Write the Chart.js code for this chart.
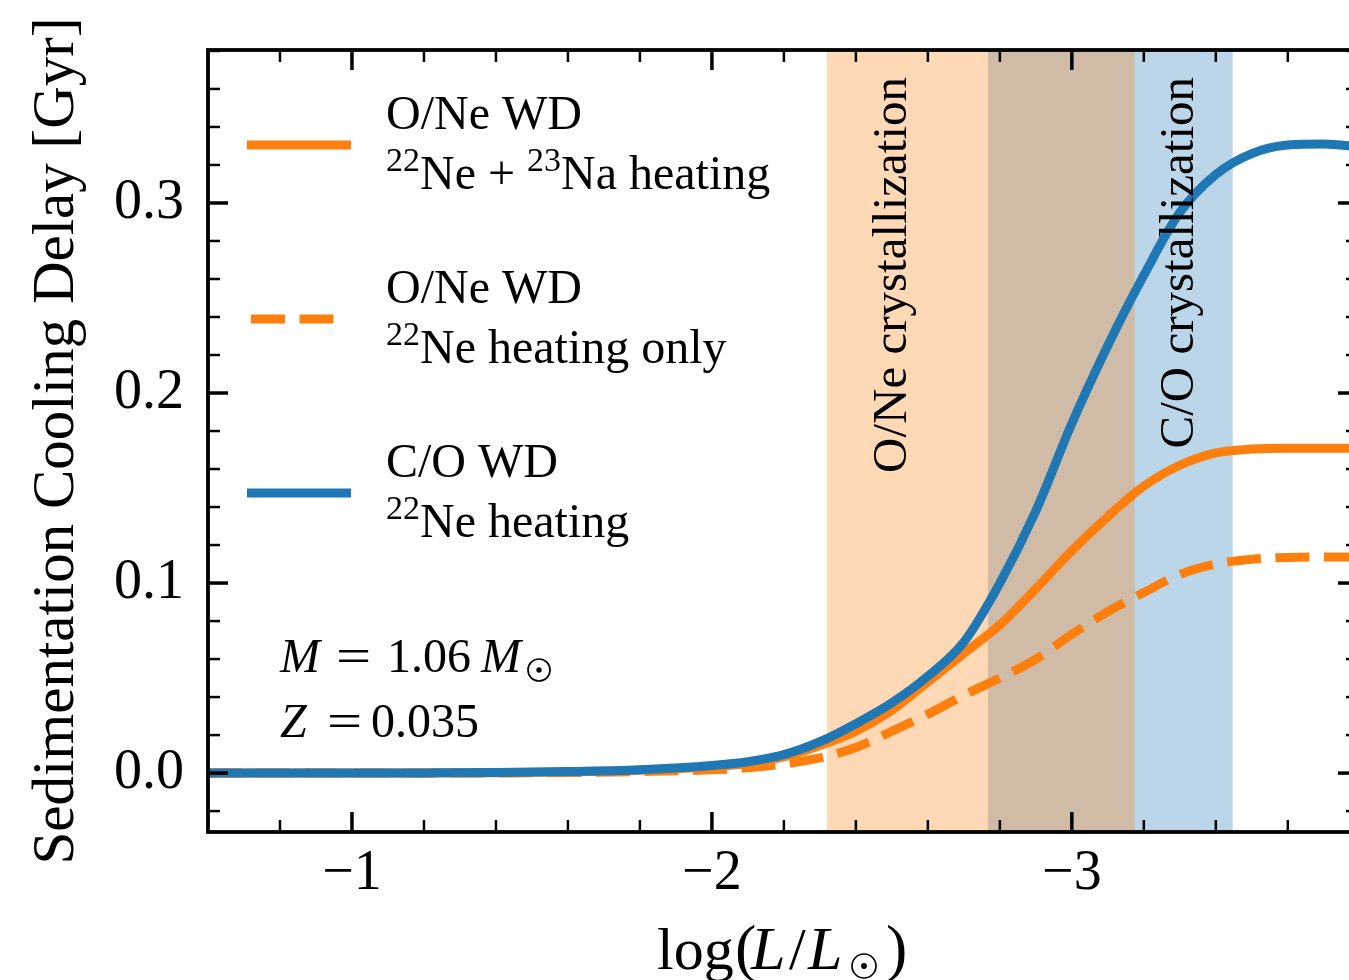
<!DOCTYPE html>
<html>
<head>
<meta charset="utf-8">
<title>Sedimentation cooling delay</title>
<script src="https://cdn.jsdelivr.net/npm/chart.js@4.4.0/dist/chart.umd.min.js"></script>
<style>
  html, body { margin: 0; padding: 0; background: #fff; overflow: hidden; }
  #wrap { width: 1380px; height: 980px; }
</style>
</head>
<body>
<div id="wrap"><canvas id="delay-chart" width="1380" height="980"></canvas></div>
<script>
// log(L/Lsun) grid and cooling delays in Gyr
const logL = [-0.6, -0.8, -1.0, -1.2, -1.4, -1.6, -1.8, -2.0, -2.1, -2.2, -2.3, -2.4, -2.5,
              -2.6, -2.7, -2.8, -2.9, -3.0, -3.1, -3.2, -3.3, -3.4, -3.5, -3.6, -3.7, -3.8];
const oneNeNa = [0, 0, 0, 0, 0.0002, 0.0006, 0.0015, 0.0033, 0.0050, 0.0085, 0.0145, 0.022, 0.033,
                 0.048, 0.063, 0.078, 0.097, 0.117, 0.135, 0.151, 0.162, 0.1685, 0.1705, 0.171, 0.171, 0.171];
const one22Ne = [0, 0, 0, 0, 0.0001, 0.0003, 0.0008, 0.0017, 0.0028, 0.0048, 0.008, 0.0135, 0.022,
                 0.031, 0.041, 0.050, 0.060, 0.073, 0.085, 0.095, 0.1045, 0.110, 0.1125, 0.1135, 0.1137, 0.1137];
const co22Ne = [0, 0, 0, 0.0001, 0.0003, 0.0008, 0.0018, 0.0040, 0.0060, 0.0097, 0.0165, 0.026, 0.037,
                0.051, 0.069, 0.100, 0.138, 0.184, 0.225, 0.262, 0.295, 0.315, 0.326, 0.3305, 0.331, 0.3295];

const xTicks = [-1, -2, -3];
const yTicks = [0, 0.1, 0.2, 0.3];

// crystallization ranges in log(L/Lsun)
const oneBand = [-2.32, -3.175];
const coBand = [-2.767, -3.447];

const ORANGE = '#ff7f0e';
const BLUE = '#1f77b4';
const SERIF = '"Liberation Serif", "Times New Roman", serif';

function sun(ctx, cx, cy, r) {
  ctx.save();
  ctx.setLineDash([]);
  ctx.lineWidth = 1.7;
  ctx.beginPath();
  ctx.arc(cx, cy, r, 0, Math.PI * 2);
  ctx.stroke();
  ctx.beginPath();
  ctx.arc(cx, cy, r * 0.24, 0, Math.PI * 2);
  ctx.fill();
  ctx.restore();
}

// wide math-style equals sign
function equals(ctx, x, y, size) {
  ctx.save();
  ctx.font = size + 'px ' + SERIF;
  ctx.translate(x, y);
  ctx.scale(1.3, 1);
  ctx.fillText('=', 0, 0);
  ctx.restore();
}

// text runs laid out one after another, sup runs raised and smaller
function drawRuns(ctx, x, y, runs, size) {
  runs.forEach(r => {
    const fs = r.sup ? Math.round(size * 0.7) : size;
    ctx.font = (r.it ? 'italic ' : '') + fs + 'px ' + SERIF;
    ctx.fillText(r.t, x, y - (r.sup ? size * 0.37 : 0));
    x += ctx.measureText(r.t).width;
  });
}

const bands = {
  id: 'bands',
  beforeDatasetsDraw(chart) {
    const {ctx, chartArea: a, scales: {x}} = chart;
    ctx.save();
    [[coBand, 'rgba(31,119,180,0.3)'], [oneBand, 'rgba(255,127,14,0.3)']].forEach(([b, c]) => {
      const x0 = x.getPixelForValue(b[0]);
      const x1 = x.getPixelForValue(b[1]);
      ctx.fillStyle = c;
      ctx.fillRect(Math.min(x0, x1), a.top, Math.abs(x1 - x0), a.bottom - a.top);
    });
    ctx.restore();
  },
  afterDatasetsDraw(chart) {
    const {ctx, chartArea: a, scales: {x}} = chart;
    ctx.save();
    ctx.fillStyle = '#000';
    ctx.font = '49px ' + SERIF;
    ctx.textAlign = 'right';
    ctx.textBaseline = 'alphabetic';
    [['O/Ne crystallization', -2.54], ['C/O crystallization', -3.336]].forEach(([t, v]) => {
      ctx.save();
      ctx.translate(x.getPixelForValue(v), a.top + 27);
      ctx.rotate(-Math.PI / 2);
      ctx.fillText(t, 0, 0);
      ctx.restore();
    });
    ctx.restore();
  }
};

const legendRows = [
  {ds: 0, y: 145, from: 247, to: 351, lines: [
    [{t: 'O/Ne WD'}],
    [{t: '22', sup: true}, {t: 'Ne + '}, {t: '23', sup: true}, {t: 'Na heating'}]]},
  {ds: 1, y: 319, from: 251, to: 334, lines: [
    [{t: 'O/Ne WD'}],
    [{t: '22', sup: true}, {t: 'Ne heating only'}]]},
  {ds: 2, y: 493, from: 247, to: 351, lines: [
    [{t: 'C/O WD'}],
    [{t: '22', sup: true}, {t: 'Ne heating'}]]}
];

const frame = {
  id: 'frame',
  afterDraw(chart) {
    const {ctx, chartArea: a, scales: {x, y}} = chart;
    ctx.save();
    ctx.strokeStyle = '#000';
    ctx.fillStyle = '#000';
    ctx.lineCap = 'butt';

    const seg = (x0, y0, x1, y1, w) => {
      ctx.lineWidth = w;
      ctx.beginPath();
      ctx.moveTo(x0, y0);
      ctx.lineTo(x1, y1);
      ctx.stroke();
    };

    // ticks point inward on all four sides
    for (let i = 4; i <= 19; i++) {
      const v = -i / 5;
      const px = x.getPixelForValue(v);
      if (px <= a.left || px >= a.right) continue;
      const major = i % 5 === 0;
      const len = major ? 20 : 12;
      const w = major ? 3.5 : 2.5;
      seg(px, a.bottom, px, a.bottom - len, w);
      seg(px, a.top, px, a.top + len, w);
    }
    for (let i = -1; i <= 19; i++) {
      const v = i / 50;
      const py = y.getPixelForValue(v);
      if (py >= a.bottom || py <= a.top) continue;
      const major = i % 5 === 0;
      const len = major ? 20 : 12;
      const w = major ? 3.5 : 2.5;
      seg(a.left, py, a.left + len, py, w);
      seg(a.right, py, a.right - len, py, w);
    }
    ctx.lineWidth = 3.8;
    ctx.strokeRect(a.left, a.top, a.right - a.left, a.bottom - a.top);

    // legend
    ctx.textAlign = 'left';
    ctx.textBaseline = 'alphabetic';
    legendRows.forEach(row => {
      const ds = chart.data.datasets[row.ds];
      ctx.save();
      ctx.strokeStyle = ds.borderColor;
      ctx.lineWidth = ds.borderWidth;
      ctx.setLineDash(ds.borderDash || []);
      ctx.beginPath();
      ctx.moveTo(row.from, row.y);
      ctx.lineTo(row.to, row.y);
      ctx.stroke();
      ctx.restore();
      drawRuns(ctx, 386, row.y - 16, row.lines[0], 48);
      drawRuns(ctx, 386, row.y + 44, row.lines[1], 48);
    });

    // model parameters
    ctx.font = 'italic 48px ' + SERIF;
    ctx.fillText('M', 280, 672);
    ctx.fillText('Z', 280, 737);
    equals(ctx, 336, 672, 48);
    equals(ctx, 327, 737, 48);
    ctx.font = '48px ' + SERIF;
    ctx.fillText('1.06', 387, 672);
    ctx.fillText('0.035', 371, 737);
    ctx.font = 'italic 48px ' + SERIF;
    ctx.fillText('M', 481, 672);
    sun(ctx, 539, 670, 11);

    // x axis title: log(L/Lsun)
    const tx = (a.left + a.right) / 2 - 126;
    const ty = 969;
    ctx.font = '60px ' + SERIF;
    ctx.fillText('log', tx, ty);
    ctx.font = '64px ' + SERIF;
    ctx.fillText('(', tx + 78, ty);
    ctx.fillText(')', tx + 229, ty);
    ctx.font = '60px ' + SERIF;
    ctx.fillText('/', tx + 132, ty);
    ctx.font = 'italic 62px ' + SERIF;
    ctx.fillText('L', tx + 94, ty);
    ctx.fillText('L', tx + 151, ty);
    sun(ctx, tx + 207, ty - 3, 12);

    ctx.restore();
  }
};

const ctx = document.getElementById('delay-chart').getContext('2d');
const delayChart = new Chart(ctx, {
  type: 'line',
  data: {
    datasets: [
      {
        label: 'O/Ne WD, 22Ne + 23Na heating',
        data: logL.map((v, i) => ({x: v, y: oneNeNa[i]})),
        borderColor: ORANGE,
        borderWidth: 9,
        order: 2
      },
      {
        label: 'O/Ne WD, 22Ne heating only',
        data: logL.map((v, i) => ({x: v, y: one22Ne[i]})),
        borderColor: ORANGE,
        borderWidth: 9,
        borderDash: [34, 14.5],
        order: 1
      },
      {
        label: 'C/O WD, 22Ne heating',
        data: logL.map((v, i) => ({x: v, y: co22Ne[i]})),
        borderColor: BLUE,
        borderWidth: 9,
        order: 0
      }
    ]
  },
  options: {
    responsive: false,
    animation: false,
    layout: { padding: { top: 50, right: 22, left: 0, bottom: 0 } },
    elements: {
      point: { radius: 0 },
      line: { cubicInterpolationMode: 'monotone', borderCapStyle: 'butt', borderJoinStyle: 'round' }
    },
    plugins: {
      legend: { display: false },
      tooltip: { enabled: false }
    },
    scales: {
      x: {
        type: 'linear',
        reverse: true,
        min: -3.795,
        max: -0.6,
        grid: { display: false, drawTicks: false },
        border: { display: false },
        afterBuildTicks: axis => { axis.ticks = xTicks.map(v => ({value: v})); },
        afterFit: axis => {
          axis.height = 148;
          axis.paddingLeft = 0;
          axis.paddingRight = 0;
        },
        ticks: {
          autoSkip: false,
          maxRotation: 0,
          padding: 9,
          color: '#000',
          font: { family: SERIF, size: 56 },
          callback: v => '\u2212' + Math.abs(v)
        }
      },
      y: {
        type: 'linear',
        min: -0.031,
        max: 0.3805,
        grid: { display: false, drawTicks: false },
        border: { display: false },
        afterBuildTicks: axis => { axis.ticks = yTicks.map(v => ({value: v})); },
        afterFit: axis => {
          axis.width = 208;
          axis.paddingTop = 0;
          axis.paddingBottom = 0;
        },
        ticks: {
          autoSkip: false,
          padding: 24,
          color: '#000',
          font: { family: SERIF, size: 56 },
          callback: v => v.toFixed(1)
        },
        title: {
          display: true,
          text: 'Sedimentation Cooling Delay [Gyr]',
          color: '#000',
          font: { family: SERIF, size: 59 },
          padding: { top: 22, bottom: 0 }
        }
      }
    }
  },
  plugins: [bands, frame]
});
</script>
</body>
</html>
